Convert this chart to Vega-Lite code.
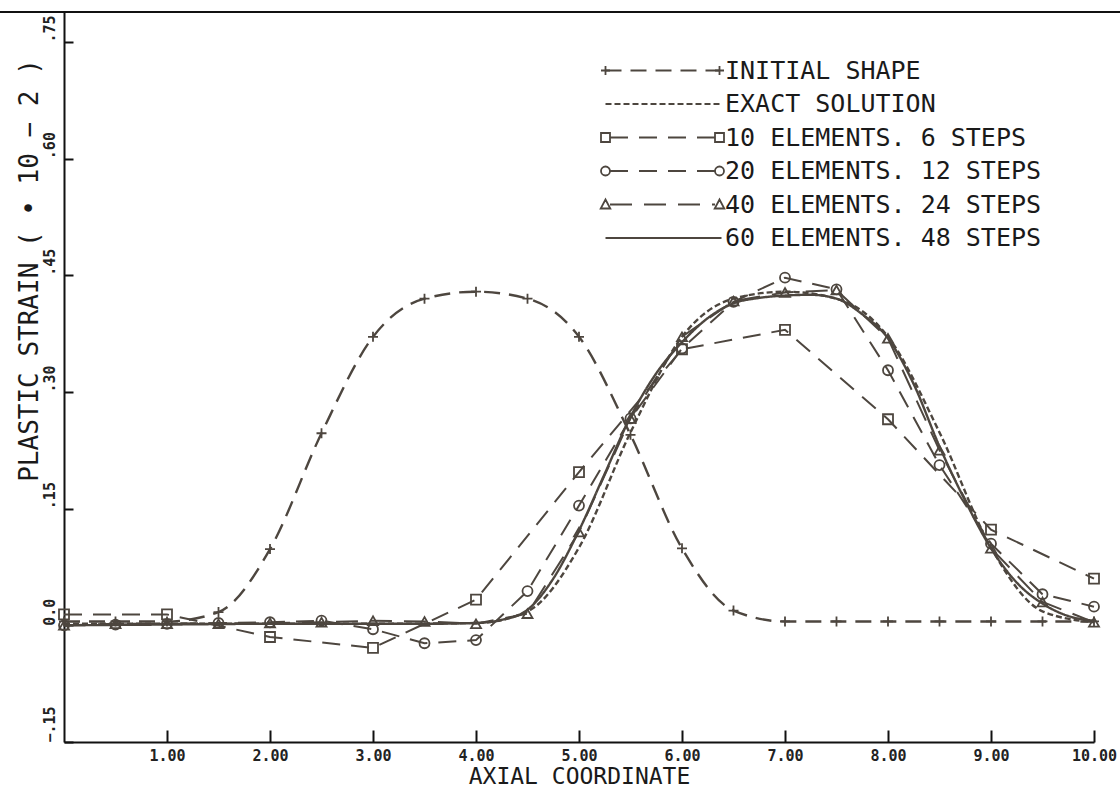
{
  "$schema": "https://vega.github.io/schema/vega-lite/v6.json",
  "width": 1030,
  "height": 730,
  "autosize": "none",
  "padding": {"left": 64, "top": 12, "right": 26, "bottom": 46},
  "background": "white",
  "config": {"view": {"stroke": null}, "axis": {"grid": false}},
  "data": {
    "values": [
      {"series": "INITIAL SHAPE", "x": 0, "y": 0.005},
      {"series": "INITIAL SHAPE", "x": 0.5, "y": 0.005},
      {"series": "INITIAL SHAPE", "x": 1.0, "y": 0.005},
      {"series": "INITIAL SHAPE", "x": 1.5, "y": 0.017},
      {"series": "INITIAL SHAPE", "x": 2.0, "y": 0.098},
      {"series": "INITIAL SHAPE", "x": 2.5, "y": 0.247},
      {"series": "INITIAL SHAPE", "x": 3.0, "y": 0.371},
      {"series": "INITIAL SHAPE", "x": 3.5, "y": 0.42},
      {"series": "INITIAL SHAPE", "x": 4.0, "y": 0.429},
      {"series": "INITIAL SHAPE", "x": 4.5, "y": 0.42},
      {"series": "INITIAL SHAPE", "x": 5.0, "y": 0.371},
      {"series": "INITIAL SHAPE", "x": 5.5, "y": 0.245},
      {"series": "INITIAL SHAPE", "x": 6.0, "y": 0.099},
      {"series": "INITIAL SHAPE", "x": 6.5, "y": 0.019},
      {"series": "INITIAL SHAPE", "x": 7.0, "y": 0.005},
      {"series": "INITIAL SHAPE", "x": 7.5, "y": 0.005},
      {"series": "INITIAL SHAPE", "x": 8.0, "y": 0.005},
      {"series": "INITIAL SHAPE", "x": 8.5, "y": 0.005},
      {"series": "INITIAL SHAPE", "x": 9.0, "y": 0.005},
      {"series": "INITIAL SHAPE", "x": 9.5, "y": 0.005},
      {"series": "INITIAL SHAPE", "x": 10.0, "y": 0.005},

      {"series": "EXACT SOLUTION", "x": 0, "y": 0.002},
      {"series": "EXACT SOLUTION", "x": 1.0, "y": 0.002},
      {"series": "EXACT SOLUTION", "x": 2.0, "y": 0.002},
      {"series": "EXACT SOLUTION", "x": 3.0, "y": 0.002},
      {"series": "EXACT SOLUTION", "x": 4.0, "y": 0.003},
      {"series": "EXACT SOLUTION", "x": 4.5, "y": 0.018},
      {"series": "EXACT SOLUTION", "x": 5.0, "y": 0.1},
      {"series": "EXACT SOLUTION", "x": 5.5, "y": 0.248},
      {"series": "EXACT SOLUTION", "x": 6.0, "y": 0.371},
      {"series": "EXACT SOLUTION", "x": 6.5, "y": 0.42},
      {"series": "EXACT SOLUTION", "x": 7.0, "y": 0.429},
      {"series": "EXACT SOLUTION", "x": 7.5, "y": 0.42},
      {"series": "EXACT SOLUTION", "x": 8.0, "y": 0.371},
      {"series": "EXACT SOLUTION", "x": 8.5, "y": 0.248},
      {"series": "EXACT SOLUTION", "x": 9.0, "y": 0.1},
      {"series": "EXACT SOLUTION", "x": 9.5, "y": 0.018},
      {"series": "EXACT SOLUTION", "x": 10.0, "y": 0.004},

      {"series": "10 ELEMENTS. 6 STEPS", "x": 0, "y": 0.014},
      {"series": "10 ELEMENTS. 6 STEPS", "x": 1.0, "y": 0.014},
      {"series": "10 ELEMENTS. 6 STEPS", "x": 2.0, "y": -0.015},
      {"series": "10 ELEMENTS. 6 STEPS", "x": 3.0, "y": -0.029},
      {"series": "10 ELEMENTS. 6 STEPS", "x": 4.0, "y": 0.033},
      {"series": "10 ELEMENTS. 6 STEPS", "x": 5.0, "y": 0.197},
      {"series": "10 ELEMENTS. 6 STEPS", "x": 6.0, "y": 0.355},
      {"series": "10 ELEMENTS. 6 STEPS", "x": 7.0, "y": 0.38},
      {"series": "10 ELEMENTS. 6 STEPS", "x": 8.0, "y": 0.265},
      {"series": "10 ELEMENTS. 6 STEPS", "x": 9.0, "y": 0.123},
      {"series": "10 ELEMENTS. 6 STEPS", "x": 10.0, "y": 0.06},

      {"series": "20 ELEMENTS. 12 STEPS", "x": 0, "y": 0.0},
      {"series": "20 ELEMENTS. 12 STEPS", "x": 0.5, "y": 0.001},
      {"series": "20 ELEMENTS. 12 STEPS", "x": 1.0, "y": 0.002},
      {"series": "20 ELEMENTS. 12 STEPS", "x": 1.5, "y": 0.003},
      {"series": "20 ELEMENTS. 12 STEPS", "x": 2.0, "y": 0.004},
      {"series": "20 ELEMENTS. 12 STEPS", "x": 2.5, "y": 0.006},
      {"series": "20 ELEMENTS. 12 STEPS", "x": 3.0, "y": -0.005},
      {"series": "20 ELEMENTS. 12 STEPS", "x": 3.5, "y": -0.023},
      {"series": "20 ELEMENTS. 12 STEPS", "x": 4.0, "y": -0.019},
      {"series": "20 ELEMENTS. 12 STEPS", "x": 4.5, "y": 0.044},
      {"series": "20 ELEMENTS. 12 STEPS", "x": 5.0, "y": 0.154},
      {"series": "20 ELEMENTS. 12 STEPS", "x": 5.5, "y": 0.266},
      {"series": "20 ELEMENTS. 12 STEPS", "x": 6.0, "y": 0.356},
      {"series": "20 ELEMENTS. 12 STEPS", "x": 6.5, "y": 0.416},
      {"series": "20 ELEMENTS. 12 STEPS", "x": 7.0, "y": 0.447},
      {"series": "20 ELEMENTS. 12 STEPS", "x": 7.5, "y": 0.432},
      {"series": "20 ELEMENTS. 12 STEPS", "x": 8.0, "y": 0.328},
      {"series": "20 ELEMENTS. 12 STEPS", "x": 8.5, "y": 0.206},
      {"series": "20 ELEMENTS. 12 STEPS", "x": 9.0, "y": 0.105},
      {"series": "20 ELEMENTS. 12 STEPS", "x": 9.5, "y": 0.04},
      {"series": "20 ELEMENTS. 12 STEPS", "x": 10.0, "y": 0.024},

      {"series": "40 ELEMENTS. 24 STEPS", "x": 0, "y": 0.0},
      {"series": "40 ELEMENTS. 24 STEPS", "x": 0.5, "y": 0.002},
      {"series": "40 ELEMENTS. 24 STEPS", "x": 1.0, "y": 0.002},
      {"series": "40 ELEMENTS. 24 STEPS", "x": 1.5, "y": 0.002},
      {"series": "40 ELEMENTS. 24 STEPS", "x": 2.0, "y": 0.003},
      {"series": "40 ELEMENTS. 24 STEPS", "x": 2.5, "y": 0.004},
      {"series": "40 ELEMENTS. 24 STEPS", "x": 3.0, "y": 0.006},
      {"series": "40 ELEMENTS. 24 STEPS", "x": 3.5, "y": 0.005},
      {"series": "40 ELEMENTS. 24 STEPS", "x": 4.0, "y": 0.002},
      {"series": "40 ELEMENTS. 24 STEPS", "x": 4.5, "y": 0.015},
      {"series": "40 ELEMENTS. 24 STEPS", "x": 5.0, "y": 0.12},
      {"series": "40 ELEMENTS. 24 STEPS", "x": 5.5, "y": 0.266},
      {"series": "40 ELEMENTS. 24 STEPS", "x": 6.0, "y": 0.371},
      {"series": "40 ELEMENTS. 24 STEPS", "x": 6.5, "y": 0.417},
      {"series": "40 ELEMENTS. 24 STEPS", "x": 7.0, "y": 0.428},
      {"series": "40 ELEMENTS. 24 STEPS", "x": 7.5, "y": 0.431},
      {"series": "40 ELEMENTS. 24 STEPS", "x": 8.0, "y": 0.369},
      {"series": "40 ELEMENTS. 24 STEPS", "x": 8.5, "y": 0.225},
      {"series": "40 ELEMENTS. 24 STEPS", "x": 9.0, "y": 0.099},
      {"series": "40 ELEMENTS. 24 STEPS", "x": 9.5, "y": 0.03},
      {"series": "40 ELEMENTS. 24 STEPS", "x": 10.0, "y": 0.004},

      {"series": "60 ELEMENTS. 48 STEPS", "x": 0, "y": 0.0},
      {"series": "60 ELEMENTS. 48 STEPS", "x": 1.0, "y": 0.001},
      {"series": "60 ELEMENTS. 48 STEPS", "x": 2.0, "y": 0.002},
      {"series": "60 ELEMENTS. 48 STEPS", "x": 3.0, "y": 0.002},
      {"series": "60 ELEMENTS. 48 STEPS", "x": 3.5, "y": 0.002},
      {"series": "60 ELEMENTS. 48 STEPS", "x": 4.0, "y": 0.003},
      {"series": "60 ELEMENTS. 48 STEPS", "x": 4.25, "y": 0.007},
      {"series": "60 ELEMENTS. 48 STEPS", "x": 4.5, "y": 0.02},
      {"series": "60 ELEMENTS. 48 STEPS", "x": 4.75, "y": 0.06},
      {"series": "60 ELEMENTS. 48 STEPS", "x": 5.0, "y": 0.122},
      {"series": "60 ELEMENTS. 48 STEPS", "x": 5.25, "y": 0.195},
      {"series": "60 ELEMENTS. 48 STEPS", "x": 5.5, "y": 0.268},
      {"series": "60 ELEMENTS. 48 STEPS", "x": 5.75, "y": 0.324},
      {"series": "60 ELEMENTS. 48 STEPS", "x": 6.0, "y": 0.364},
      {"series": "60 ELEMENTS. 48 STEPS", "x": 6.25, "y": 0.395},
      {"series": "60 ELEMENTS. 48 STEPS", "x": 6.5, "y": 0.414},
      {"series": "60 ELEMENTS. 48 STEPS", "x": 6.75, "y": 0.421},
      {"series": "60 ELEMENTS. 48 STEPS", "x": 7.0, "y": 0.424},
      {"series": "60 ELEMENTS. 48 STEPS", "x": 7.25, "y": 0.425},
      {"series": "60 ELEMENTS. 48 STEPS", "x": 7.5, "y": 0.42},
      {"series": "60 ELEMENTS. 48 STEPS", "x": 7.75, "y": 0.4},
      {"series": "60 ELEMENTS. 48 STEPS", "x": 8.0, "y": 0.369},
      {"series": "60 ELEMENTS. 48 STEPS", "x": 8.25, "y": 0.31},
      {"series": "60 ELEMENTS. 48 STEPS", "x": 8.5, "y": 0.23},
      {"series": "60 ELEMENTS. 48 STEPS", "x": 8.75, "y": 0.16},
      {"series": "60 ELEMENTS. 48 STEPS", "x": 9.0, "y": 0.099},
      {"series": "60 ELEMENTS. 48 STEPS", "x": 9.25, "y": 0.055},
      {"series": "60 ELEMENTS. 48 STEPS", "x": 9.5, "y": 0.028},
      {"series": "60 ELEMENTS. 48 STEPS", "x": 9.75, "y": 0.012},
      {"series": "60 ELEMENTS. 48 STEPS", "x": 10.0, "y": 0.006}
    ]
  },
  "encoding": {
    "x": {
      "field": "x", "type": "quantitative",
      "scale": {"domain": [0, 10], "nice": false, "zero": false},
      "axis": {
        "values": [1, 2, 3, 4, 5, 6, 7, 8, 9, 10],
        "format": ".2f",
        "title": "AXIAL COORDINATE",
        "labelFont": "DejaVu Sans Mono", "labelFontSize": 15, "labelFontWeight": "bold", "labelColor": "#222",
        "labelFlush": false, "labelOverlap": false, "labelPadding": 18,
        "domainColor": "#111", "domainWidth": 2,
        "tickColor": "#111", "tickWidth": 2, "tickSize": -12,
        "titleFont": "DejaVu Sans Mono", "titleFontSize": 23, "titleFontWeight": "normal", "titleColor": "#1a1a1a",
        "titleY": 34, "titleBaseline": "middle"
      }
    },
    "y": {
      "field": "y", "type": "quantitative",
      "scale": {"domain": [-0.15, 0.7886], "nice": false, "zero": false},
      "axis": {
        "values": [-0.15, 0, 0.15, 0.3, 0.45, 0.6, 0.75],
        "labelExpr": "datum.value == 0 ? '0.0' : replace(format(datum.value, '.2f'), '0.', '.')",
        "title": "PLASTIC STRAIN ( • 10 − 2 )",
        "labelFont": "DejaVu Sans Mono", "labelFontSize": 15, "labelFontWeight": "bold", "labelColor": "#222",
        "labelAngle": 270, "labelAlign": "left", "labelBaseline": "bottom",
        "labelFlush": false, "labelOverlap": false, "labelPadding": 16,
        "domainColor": "#111", "domainWidth": 2,
        "tickColor": "#111", "tickWidth": 2, "tickSize": -9,
        "titleFont": "DejaVu Sans Mono", "titleFontSize": 26, "titleFontWeight": "normal", "titleColor": "#1a1a1a",
        "titleAngle": 270, "titleX": -35, "titleY": 258, "titleAlign": "center", "titleBaseline": "middle"
      }
    }
  },
  "layer": [
    {
      "transform": [{"filter": {"field": "series", "oneOf": ["10 ELEMENTS. 6 STEPS", "20 ELEMENTS. 12 STEPS", "40 ELEMENTS. 24 STEPS"]}}],
      "mark": {"type": "line", "color": "#4d463f", "strokeWidth": 2, "interpolate": "linear"},
      "encoding": {
        "strokeDash": {
          "field": "series", "type": "nominal",
          "scale": {
            "domain": ["INITIAL SHAPE", "EXACT SOLUTION", "10 ELEMENTS. 6 STEPS", "20 ELEMENTS. 12 STEPS", "40 ELEMENTS. 24 STEPS", "60 ELEMENTS. 48 STEPS"],
            "range": [[16, 9], [6, 3], [18, 11], [18, 11], [22, 12], [1, 0]]
          },
          "legend": {
            "orient": "none", "legendX": 536, "legendY": 46, "title": null, "padding": 0,
            "symbolType": "stroke", "symbolSize": 400, "symbolStrokeWidth": 2, "symbolStrokeColor": "#4d463f",
            "labelFont": "DejaVu Sans Mono", "labelFontSize": 25, "labelColor": "#1a1a1a", "labelOffset": 100, "labelLimit": 500,
            "rowPadding": 7.5,
            "encode": {
              "symbols": {
                "update": {
                  "fill": {"value": "transparent"},
                  "shape": {"signal": "datum.value === 'INITIAL SHAPE' ? 'M-0.7,0H10.7' : datum.value === 'EXACT SOLUTION' || datum.value === '60 ELEMENTS. 48 STEPS' ? 'M-0.7,0H10.9' : 'M-0.25,0H10.25'"}
                }
              }
            }
          }
        }
      }
    },
    {
      "transform": [{"filter": {"field": "series", "oneOf": ["INITIAL SHAPE", "EXACT SOLUTION", "60 ELEMENTS. 48 STEPS"]}}],
      "mark": {"type": "line", "color": "#4d463f", "strokeWidth": 2.4, "interpolate": "monotone"},
      "encoding": {
        "strokeDash": {
          "field": "series", "type": "nominal",
          "scale": {
            "domain": ["INITIAL SHAPE", "EXACT SOLUTION", "10 ELEMENTS. 6 STEPS", "20 ELEMENTS. 12 STEPS", "40 ELEMENTS. 24 STEPS", "60 ELEMENTS. 48 STEPS"],
            "range": [[16, 9], [6, 3], [18, 11], [18, 11], [22, 12], [1, 0]]
          },
          "legend": {
            "orient": "none", "legendX": 536, "legendY": 46, "title": null, "padding": 0,
            "symbolType": "stroke", "symbolSize": 400, "symbolStrokeWidth": 2, "symbolStrokeColor": "#4d463f",
            "labelFont": "DejaVu Sans Mono", "labelFontSize": 25, "labelColor": "#1a1a1a", "labelOffset": 100, "labelLimit": 500,
            "rowPadding": 7.5,
            "encode": {
              "symbols": {
                "update": {
                  "fill": {"value": "transparent"},
                  "shape": {"signal": "datum.value === 'INITIAL SHAPE' ? 'M-0.7,0H10.7' : datum.value === 'EXACT SOLUTION' || datum.value === '60 ELEMENTS. 48 STEPS' ? 'M-0.7,0H10.9' : 'M-0.25,0H10.25'"}
                }
              }
            }
          }
        }
      }
    },
    {
      "mark": {"type": "line", "strokeWidth": 0, "opacity": 0},
      "encoding": {
        "color": {
          "field": "series", "type": "nominal",
          "scale": {
            "domain": ["INITIAL SHAPE", "EXACT SOLUTION", "10 ELEMENTS. 6 STEPS", "20 ELEMENTS. 12 STEPS", "40 ELEMENTS. 24 STEPS", "60 ELEMENTS. 48 STEPS", " "],
            "range": ["#4d463f", "#4d463f", "#4d463f", "#4d463f", "#4d463f", "#4d463f", "#4d463f"]
          },
          "legend": {
            "orient": "none", "legendX": 536, "legendY": 46, "title": null, "padding": 0,
            "symbolType": "stroke", "symbolSize": 400, "symbolStrokeWidth": 1.8,
            "labelFont": "DejaVu Sans Mono", "labelFontSize": 25, "labelColor": "#1a1a1a", "labelOffset": 100, "labelLimit": 500,
            "labelExpr": "' '",
            "rowPadding": 7.5,
            "encode": {
              "symbols": {
                "update": {
                  "fill": {"value": "transparent"},
                  "stroke": {"value": "#4d463f"},
                  "strokeWidth": {"value": 1.8},
                  "opacity": {"value": 1},
                  "strokeOpacity": {"value": 1},
                  "shape": {"signal": "datum.value === 'INITIAL SHAPE' ? 'M-1.15,0H-0.25M-0.7,-0.45V0.45M10.25,0H11.15M10.7,-0.45V0.45' : datum.value === '10 ELEMENTS. 6 STEPS' ? 'M-1.15,-0.45H-0.25V0.45H-1.15ZM10.25,-0.45H11.15V0.45H10.25Z' : datum.value === '20 ELEMENTS. 12 STEPS' ? 'M-0.25,0A0.45,0.45,0,1,1,-1.15,0A0.45,0.45,0,1,1,-0.25,0ZM11.15,0A0.45,0.45,0,1,1,10.25,0A0.45,0.45,0,1,1,11.15,0Z' : datum.value === '40 ELEMENTS. 24 STEPS' ? 'M-0.7,-0.5L-0.22,0.4H-1.18ZM10.7,-0.5L11.18,0.4H10.22Z' : 'M0,0'"}
                }
              }
            }
          }
        }
      }
    },
    {
      "transform": [{"filter": {"field": "series", "oneOf": ["INITIAL SHAPE", "10 ELEMENTS. 6 STEPS", "20 ELEMENTS. 12 STEPS", "40 ELEMENTS. 24 STEPS"]}}],
      "mark": {"type": "point", "filled": false, "color": "#4d463f", "strokeWidth": 1.8, "size": 100, "opacity": 1},
      "encoding": {
        "shape": {
          "field": "series", "type": "nominal",
          "scale": {
            "domain": ["INITIAL SHAPE", "10 ELEMENTS. 6 STEPS", "20 ELEMENTS. 12 STEPS", "40 ELEMENTS. 24 STEPS"],
            "range": ["M-1,0H1M0,-1V1", "square", "circle", "triangle-up"]
          },
          "legend": null
        }
      }
    },
    {
      "mark": {"type": "rule", "clip": false, "color": "#111", "strokeWidth": 2},
      "encoding": {
        "x": {"datum": -0.63},
        "x2": {"datum": 10.26},
        "y": {"datum": 0.7886}
      }
    }
  ]
}
